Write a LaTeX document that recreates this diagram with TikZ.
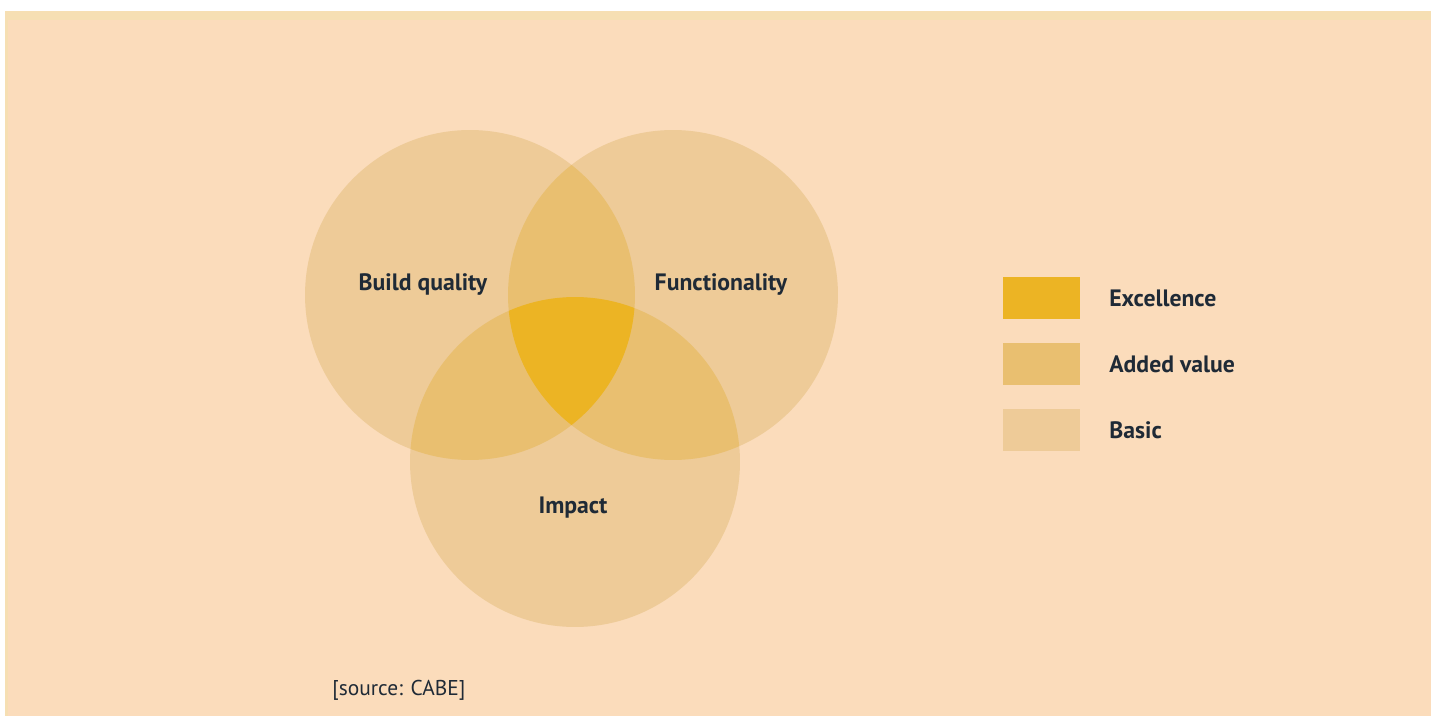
\documentclass[tikz,border=0pt]{standalone}
\usepackage{fontspec}
\setmainfont{PT Sans}
\definecolor{bgpeach}{HTML}{FBDCBB}
\definecolor{bgband}{HTML}{F6DFB3}
\definecolor{basic}{HTML}{EECB98}
\definecolor{added}{HTML}{E9BF70}
\definecolor{excel}{HTML}{ECB424}
\definecolor{ink}{HTML}{1F2A36}
\tikzset{
  ring/.style={circle,fill=basic,minimum size=6.6cm,inner sep=0pt},
  lbl/.style={text=ink,font=\fontsize{13.5}{16}\selectfont\bfseries,inner sep=0pt},
  keybox/.style={minimum width=1.54cm,minimum height=0.86cm,inner sep=0pt}
}
\begin{document}
\begin{tikzpicture}[x=0.02cm,y=-0.02cm]
    \useasboundingbox (0,0) rectangle (1431,716);
    \fill[white] (0,0) rectangle (1431,716);
    \fill[bgband] (5,11) rectangle (1431,716);
    \fill[bgpeach] (8,20) rectangle (1431,716);
    % three quality circles
    \node[ring] (bq) at (470,295) {};
    \node[ring] (fn) at (673,295) {};
    \node[ring] (im) at (575,462) {};
    % pairwise overlaps
    \foreach \ca/\cb in {bq/fn,bq/im,fn/im}{
      \begin{scope}
        \clip (\ca.center) circle (3.3cm);
        \fill[added] (\cb.center) circle (3.3cm);
      \end{scope}
    }
    % centre where all three meet
    \begin{scope}
      \clip (bq.center) circle (3.3cm);
      \clip (fn.center) circle (3.3cm);
      \fill[excel] (im.center) circle (3.3cm);
    \end{scope}
    \node[lbl] (bqtxt) at (423,284) {Build quality};
    \node[lbl] (fntxt) at (721,284) {Functionality};
    \node[lbl] (imtxt) at (573,508) {Impact};
    % key
    \foreach \kname/\ky/\kcol/\ktext in {
        ex/298/excel/Excellence,
        av/364/added/Added value,
        ba/430/basic/Basic}{
      \node[keybox,fill=\kcol] (\kname box) at (1041,\ky) {};
      \node[lbl,anchor=west] (\kname txt) at (1109,\ky) {\ktext};
    }
    \node[text=ink,font=\fontsize{12.2}{15}\selectfont,anchor=west,inner sep=0pt]
      (src) at (332,690) {[source: CABE]};
\end{tikzpicture}
\end{document}
